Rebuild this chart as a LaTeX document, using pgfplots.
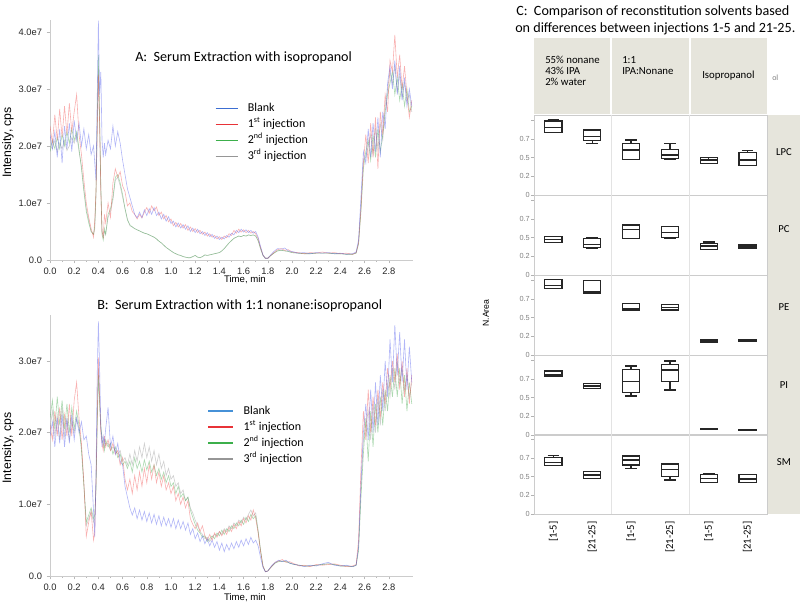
\documentclass[border=0pt]{standalone}
\usepackage{fontspec}
\setmainfont{Carlito}
\newfontfamily\arial{Liberation Sans}
\usepackage{pgfplots}
\usepackage{pgfplotstable}
\pgfplotsset{compat=1.18}
\usepgfplotslibrary{statistics}

\definecolor{tblue}{RGB}{70,80,235}
\definecolor{tred}{RGB}{240,70,70}
\definecolor{tgreen}{RGB}{60,165,70}
\definecolor{tgray}{RGB}{140,140,140}
\definecolor{lblue}{RGB}{60,110,210}
\definecolor{lblueB}{RGB}{70,145,215}
\definecolor{lred}{RGB}{232,50,55}
\definecolor{lgreen}{RGB}{60,175,75}
\definecolor{lgray}{RGB}{150,150,150}
\definecolor{strip}{RGB}{230,229,220}

% panel A: intensity in units of 1e7 cps
\pgfplotstableread{
x bl r1 g2 k3
0.00 2.20 2.35 1.90 2.00
0.02 1.95 2.05 2.10 1.95
0.04 2.25 2.55 1.95 2.10
0.06 1.80 2.10 2.15 1.90
0.08 2.30 2.65 1.95 2.05
0.10 1.70 2.15 2.20 1.95
0.12 2.35 2.70 2.00 2.10
0.14 1.95 2.20 2.25 1.92
0.16 2.40 2.75 2.05 2.00
0.18 1.90 2.25 2.30 2.15
0.20 2.45 2.60 2.10 2.05
0.22 2.10 2.90 2.25 2.20
0.24 2.40 2.20 1.95 1.90
0.26 2.00 1.85 1.60 1.65
0.28 2.30 1.40 1.20 1.25
0.30 1.95 1.00 0.85 0.90
0.32 2.20 0.75 0.65 0.70
0.34 1.85 0.55 0.50 0.50
0.36 2.00 0.40 0.45 0.45
0.37 1.70 0.70 0.60 0.55
0.38 1.40 1.20 1.20 1.10
0.39 2.80 2.20 2.40 2.30
0.40 4.20 3.25 3.60 3.40
0.41 2.90 2.40 2.50 2.40
0.42 3.30 1.20 1.30 1.25
0.43 2.10 0.50 0.45 0.50
0.44 1.80 0.40 0.35 0.40
0.45 2.05 0.80 0.55 0.50
0.46 1.85 0.65 0.45 0.45
0.48 2.10 1.00 0.80 0.75
0.50 1.95 0.75 0.90 0.85
0.52 2.35 1.35 1.10 1.05
0.54 2.00 1.60 1.45 1.40
0.56 2.25 1.45 1.50 1.45
0.58 2.05 1.55 1.35 1.30
0.60 1.75 1.30 1.15 1.10
0.62 1.50 1.20 0.90 0.90
0.64 1.25 0.95 0.70 0.72
0.66 1.10 1.00 0.62 0.60
0.68 0.95 0.85 0.58 0.58
0.70 0.80 0.80 0.55 0.55
0.72 0.74 0.72 0.53 0.53
0.74 0.84 0.80 0.51 0.51
0.76 0.74 0.74 0.49 0.49
0.78 0.88 0.84 0.47 0.47
0.80 0.78 0.92 0.46 0.46
0.82 0.90 0.82 0.44 0.44
0.84 0.80 0.95 0.42 0.42
0.86 0.92 0.86 0.40 0.40
0.88 0.78 0.93 0.37 0.37
0.90 0.84 0.78 0.33 0.33
0.92 0.72 0.84 0.30 0.30
0.94 0.80 0.72 0.26 0.26
0.96 0.68 0.78 0.22 0.22
0.98 0.76 0.67 0.19 0.19
1.00 0.64 0.72 0.16 0.16
1.02 0.68 0.60 0.13 0.13
1.04 0.58 0.66 0.11 0.11
1.06 0.65 0.58 0.09 0.09
1.08 0.56 0.64 0.08 0.08
1.10 0.62 0.56 0.06 0.06
1.12 0.54 0.62 0.05 0.05
1.14 0.60 0.52 0.04 0.04
1.16 0.50 0.58 0.04 0.04
1.18 0.56 0.50 0.06 0.06
1.20 0.48 0.55 0.08 0.08
1.22 0.54 0.48 0.05 0.05
1.24 0.46 0.52 0.04 0.04
1.26 0.50 0.45 0.06 0.06
1.28 0.43 0.49 0.09 0.09
1.30 0.48 0.42 0.08 0.08
1.32 0.41 0.46 0.09 0.09
1.34 0.45 0.40 0.10 0.10
1.36 0.38 0.43 0.11 0.11
1.38 0.42 0.37 0.12 0.12
1.40 0.36 0.41 0.13 0.13
1.42 0.40 0.36 0.16 0.16
1.44 0.37 0.42 0.20 0.20
1.46 0.43 0.39 0.25 0.25
1.48 0.40 0.46 0.30 0.30
1.50 0.47 0.43 0.34 0.34
1.52 0.44 0.52 0.38 0.38
1.54 0.52 0.47 0.40 0.40
1.56 0.48 0.54 0.42 0.42
1.58 0.54 0.49 0.41 0.41
1.60 0.49 0.53 0.43 0.43
1.62 0.53 0.48 0.42 0.42
1.64 0.48 0.52 0.44 0.44
1.66 0.52 0.47 0.43 0.43
1.68 0.47 0.50 0.44 0.44
1.70 0.50 0.46 0.42 0.42
1.72 0.40 0.38 0.34 0.34
1.74 0.24 0.22 0.20 0.20
1.76 0.09 0.09 0.08 0.08
1.78 0.03 0.03 0.03 0.03
1.80 0.03 0.03 0.03 0.03
1.82 0.08 0.07 0.07 0.07
1.85 0.15 0.13 0.12 0.12
1.88 0.20 0.18 0.16 0.16
1.91 0.19 0.20 0.17 0.17
1.94 0.21 0.17 0.16 0.16
1.97 0.16 0.18 0.15 0.15
2.00 0.15 0.14 0.13 0.13
2.05 0.12 0.13 0.12 0.12
2.10 0.13 0.11 0.11 0.11
2.15 0.11 0.13 0.11 0.11
2.20 0.13 0.12 0.12 0.12
2.25 0.12 0.14 0.12 0.12
2.30 0.13 0.12 0.12 0.12
2.35 0.11 0.13 0.11 0.11
2.40 0.12 0.11 0.11 0.11
2.45 0.10 0.12 0.10 0.10
2.50 0.11 0.10 0.10 0.10
2.53 0.14 0.13 0.12 0.12
2.55 0.35 0.30 0.28 0.30
2.57 1.10 0.90 0.85 0.95
2.59 1.90 1.70 1.60 1.75
2.61 1.70 2.20 1.90 1.80
2.63 2.30 1.70 2.10 2.00
2.65 1.80 2.40 1.75 2.20
2.67 2.40 1.80 2.20 1.85
2.69 1.90 2.50 1.80 2.30
2.71 2.50 1.60 2.30 1.95
2.73 1.80 2.60 1.90 2.40
2.75 2.60 2.20 2.20 2.10
2.77 2.30 2.90 2.60 2.70
2.79 3.10 2.60 2.90 3.00
2.81 3.40 3.50 3.10 3.30
2.83 3.00 3.30 3.30 3.10
2.85 3.50 3.95 2.90 3.40
2.87 2.90 3.20 3.20 2.95
2.89 3.40 3.60 2.80 3.25
2.91 2.80 3.00 3.10 2.85
2.93 3.20 3.40 2.70 3.10
2.95 2.70 2.90 3.00 2.80
2.97 3.00 2.50 2.60 2.90
2.99 2.70 2.80 2.70 2.60
}\tabA

% panel B: intensity in units of 1e7 cps
\pgfplotstableread{
x bl r1 g2 k3
0.00 1.95 2.10 2.20 2.05
0.02 2.15 1.90 2.45 2.30
0.04 1.80 2.30 2.05 1.95
0.06 2.20 1.95 2.50 2.25
0.08 1.85 2.35 2.10 1.90
0.10 2.25 1.90 2.45 2.35
0.12 1.80 2.25 2.05 1.95
0.14 2.20 1.95 2.40 2.20
0.16 1.85 2.40 2.00 1.90
0.18 2.25 1.95 2.35 2.15
0.20 1.90 2.45 2.05 2.00
0.22 2.20 2.70 2.30 2.20
0.24 2.00 2.20 2.10 2.05
0.26 2.15 1.85 1.75 1.80
0.28 1.90 1.30 1.25 1.30
0.30 1.95 0.55 0.75 0.70
0.32 1.70 0.75 0.85 0.80
0.34 1.55 0.90 0.95 0.90
0.36 0.90 0.50 0.80 0.75
0.37 0.55 0.60 0.85 0.80
0.38 1.40 1.30 1.20 1.25
0.39 2.80 2.20 2.10 2.15
0.40 3.55 3.05 2.80 2.90
0.41 2.90 2.50 2.40 2.45
0.42 2.10 2.00 2.10 2.05
0.43 1.80 1.85 1.90 1.95
0.44 1.95 1.75 1.85 1.90
0.45 1.85 1.95 1.75 1.80
0.46 2.05 1.80 1.90 1.85
0.48 2.35 1.90 1.80 1.85
0.50 1.80 1.75 1.85 1.75
0.52 1.95 1.85 1.70 1.80
0.54 1.70 1.70 1.80 1.75
0.56 1.85 1.75 1.65 1.70
0.58 1.60 1.55 1.70 1.75
0.60 1.55 1.65 1.55 1.60
0.62 1.25 1.35 1.60 1.65
0.64 1.10 1.20 1.50 1.55
0.66 0.95 1.35 1.60 1.70
0.68 0.85 1.15 1.45 1.55
0.70 0.95 1.40 1.65 1.75
0.72 0.80 1.20 1.50 1.60
0.74 0.92 1.45 1.60 1.80
0.76 0.78 1.25 1.45 1.65
0.78 0.90 1.50 1.62 1.85
0.80 0.76 1.30 1.48 1.65
0.82 0.88 1.55 1.60 1.80
0.84 0.74 1.35 1.45 1.60
0.86 0.86 1.55 1.55 1.75
0.88 0.72 1.30 1.40 1.55
0.90 0.84 1.45 1.50 1.70
0.92 0.70 1.25 1.35 1.50
0.94 0.82 1.40 1.45 1.60
0.96 0.70 1.20 1.30 1.40
0.98 0.80 1.30 1.40 1.50
1.00 0.68 1.15 1.25 1.35
1.02 0.80 1.25 1.30 1.40
1.04 0.66 1.05 1.15 1.25
1.06 0.78 1.15 1.25 1.30
1.08 0.66 1.00 1.10 1.15
1.10 0.76 1.10 1.15 1.20
1.12 0.64 0.95 1.05 1.05
1.14 0.74 1.05 1.10 1.10
1.16 0.58 0.80 0.92 0.95
1.18 0.66 0.72 0.82 0.88
1.20 0.52 0.66 0.72 0.78
1.22 0.60 0.74 0.64 0.70
1.24 0.48 0.62 0.60 0.62
1.26 0.56 0.70 0.54 0.58
1.28 0.45 0.56 0.56 0.52
1.30 0.52 0.50 0.48 0.54
1.32 0.42 0.58 0.52 0.48
1.34 0.50 0.50 0.56 0.54
1.36 0.40 0.60 0.52 0.58
1.38 0.48 0.54 0.60 0.56
1.40 0.36 0.62 0.56 0.62
1.42 0.46 0.56 0.64 0.58
1.44 0.34 0.64 0.58 0.66
1.46 0.44 0.58 0.66 0.62
1.48 0.36 0.68 0.62 0.70
1.50 0.46 0.62 0.70 0.66
1.52 0.38 0.72 0.66 0.74
1.54 0.48 0.66 0.74 0.70
1.56 0.40 0.76 0.70 0.78
1.58 0.50 0.70 0.78 0.74
1.60 0.42 0.80 0.72 0.82
1.62 0.52 0.74 0.82 0.78
1.64 0.44 0.84 0.76 0.86
1.66 0.54 0.78 0.86 0.92
1.68 0.46 0.92 0.80 0.84
1.70 0.50 0.80 0.84 0.88
1.72 0.42 0.60 0.62 0.64
1.74 0.26 0.34 0.36 0.36
1.76 0.12 0.14 0.14 0.14
1.78 0.06 0.06 0.06 0.06
1.80 0.07 0.07 0.07 0.07
1.83 0.14 0.13 0.13 0.13
1.86 0.19 0.19 0.18 0.18
1.89 0.22 0.21 0.20 0.21
1.92 0.20 0.23 0.21 0.20
1.95 0.22 0.19 0.20 0.21
1.98 0.18 0.20 0.18 0.18
2.02 0.16 0.17 0.16 0.16
2.06 0.15 0.14 0.15 0.15
2.10 0.13 0.15 0.14 0.14
2.15 0.15 0.13 0.14 0.14
2.20 0.14 0.16 0.15 0.15
2.25 0.17 0.15 0.16 0.16
2.30 0.19 0.16 0.17 0.17
2.35 0.15 0.17 0.16 0.16
2.40 0.14 0.15 0.14 0.14
2.45 0.15 0.13 0.14 0.14
2.50 0.13 0.14 0.13 0.13
2.53 0.15 0.16 0.15 0.15
2.55 0.40 0.50 0.35 0.40
2.57 1.30 1.50 1.10 1.20
2.59 2.00 2.30 1.70 1.90
2.61 2.40 1.90 2.20 2.10
2.63 1.90 2.60 1.60 2.30
2.65 2.60 2.00 2.30 1.90
2.67 2.00 2.50 1.80 2.40
2.69 2.70 2.10 2.40 2.00
2.71 2.10 2.60 2.00 2.50
2.73 2.80 2.20 2.50 2.10
2.75 2.30 2.70 2.10 2.60
2.77 3.00 2.40 2.60 2.30
2.79 2.50 2.90 2.30 2.70
2.81 3.30 2.60 2.80 2.50
2.83 2.70 3.00 2.50 2.90
2.85 3.50 2.70 2.90 2.60
2.87 2.80 3.10 2.50 3.00
2.89 3.40 2.60 2.90 2.70
2.91 2.70 3.00 2.40 2.90
2.93 3.30 2.50 2.80 2.60
2.95 2.60 2.90 2.30 2.80
2.97 3.20 2.40 2.70 2.50
2.99 2.70 2.80 2.40 2.70
}\tabB

\pgfplotsset{
  trace/.style={line width=0.45pt, opacity=0.42},
  chrom/.style={
    scale only axis, width=272.25pt, anchor=south west,
    xmin=0, xmax=3.0, ymin=0,
    axis lines*=left, axis line style={gray!40},
    tick style={gray!55, thin}, tick align=outside,
    major tick length=2.5pt, minor tick length=1.5pt,
    xtick={0,0.2,0.4,0.6,0.8,1.0,1.2,1.4,1.6,1.8,2.0,2.2,2.4,2.6,2.8},
    minor x tick num=1,
    tick label style={font=\arial\fontsize{7}{8}\selectfont, text=black!85},
    xticklabel style={/pgf/number format/.cd, fixed, fixed zerofill, precision=1, assume math mode=true},
    xlabel={Time, min}, ylabel={Intensity, cps},
    xlabel style={font=\arial\fontsize{7.2}{8}\selectfont, anchor=center},
    ylabel style={font=\arial\fontsize{9.2}{10}\selectfont, at={(axis description cs:-0.116,0.49)}, anchor=center},
    legend cell align=left,
    legend style={draw=none, fill=none, inner sep=0pt, anchor=north west,
      font=\fontsize{9}{10}\selectfont,
      nodes={inner sep=1pt, text height=7pt, text depth=2pt}, row sep=1pt,
      /tikz/every odd column/.append style={column sep=6pt}},
  },
  cpanel/.style={
    scale only axis, width=174.75pt, height=60pt, anchor=south west,
    xmin=0, xmax=6, ymin=0, ymax=1.0667,
    axis line style={gray!40},
    xtick={0.5,1.5,2.5,3.5,4.5,5.5}, xticklabels={}, xtick style={draw=none},
    ytick={0,0.25,0.5,0.75,1}, yticklabels={0,0.2,0.5,0.7,{}}, ytick pos=left,
    ytick style={gray!60}, tick align=outside, major tick length=2pt,
    yticklabel style={font=\arial\fontsize{5.5}{6}\selectfont, text=gray, inner xsep=1pt},
    extra x ticks={2,4}, extra x tick labels={},
    extra x tick style={grid=major, tick style={draw=none}},
    major grid style={gray!22, line width=0.8pt},
    boxplot/draw direction=y,
    boxplot/box extend=0.44, boxplot/whisker extend=0.3,
    every axis plot/.append style={draw=black!85, line width=0.9pt},
  },
}

\begin{document}
\begin{tikzpicture}
\path[use as bounding box] (0pt,0pt) rectangle (600pt,-454.5pt);

% ---------- A ----------
\node[anchor=west, inner sep=0pt, font=\fontsize{10.6}{12}\selectfont] at (101.25pt,-43.5pt) {A:\ \ Serum Extraction with isopropanol};
\begin{axis}[chrom, at={(37.5pt,-195pt)}, height=180pt, ymax=4.21,
  ytick={0,1,2,3,4}, yticklabels={0.0,1.0e7,2.0e7,3.0e7,4.0e7},
  xlabel style={at={(axis description cs:0.537,-0.08)}},
  legend image code/.code={\draw[#1] (0pt,0pt) -- (16.5pt,0pt);},
  legend style={at={(axis cs:1.36,2.79)}}]
\addplot[tgray, trace, forget plot] table[x=x, y=k3] {\tabA};
\addplot[tgreen, trace, forget plot] table[x=x, y=g2] {\tabA};
\addplot[tred, trace, forget plot] table[x=x, y=r1] {\tabA};
\addplot[tblue, trace, forget plot] table[x=x, y=bl] {\tabA};
\addlegendimage{lblue, line width=1.3pt}
\addlegendentry{Blank}
\addlegendimage{lred, line width=1.3pt}
\addlegendentry{1\textsuperscript{st} injection}
\addlegendimage{lgreen, line width=1.3pt}
\addlegendentry{2\textsuperscript{nd} injection}
\addlegendimage{lgray, line width=1.3pt}
\addlegendentry{3\textsuperscript{rd} injection}
\end{axis}

% ---------- B ----------
\node[anchor=west, inner sep=0pt, font=\fontsize{10.6}{12}\selectfont] at (72.75pt,-229.5pt) {B:\ \ Serum Extraction with 1:1 nonane:isopropanol};
\begin{axis}[chrom, at={(37.5pt,-432pt)}, height=195.75pt, ymax=3.64,
  ytick={0,1,2,3}, yticklabels={0.0,1.0e7,2.0e7,3.0e7},
  xlabel style={at={(axis description cs:0.537,-0.084)}},
  legend image code/.code={\draw[#1] (0pt,0pt) -- (18.75pt,0pt);},
  legend style={at={(axis cs:1.30,2.41)}}]
\addplot[tgray, trace, forget plot] table[x=x, y=k3] {\tabB};
\addplot[tgreen, trace, forget plot] table[x=x, y=g2] {\tabB};
\addplot[tred, trace, forget plot] table[x=x, y=r1] {\tabB};
\addplot[tblue, trace, forget plot] table[x=x, y=bl] {\tabB};
\addlegendimage{lblueB, line width=1.3pt}
\addlegendentry{Blank}
\addlegendimage{lred, line width=1.3pt}
\addlegendentry{1\textsuperscript{st} injection}
\addlegendimage{lgreen, line width=1.3pt}
\addlegendentry{2\textsuperscript{nd} injection}
\addlegendimage{lgray, line width=1.3pt}
\addlegendentry{3\textsuperscript{rd} injection}
\end{axis}

% ---------- C ----------
\node[anchor=west, inner sep=0pt, font=\fontsize{10.6}{12}\selectfont] at (387pt,-9pt) {C:\ \ Comparison of reconstitution solvents based};
\node[anchor=west, inner sep=0pt, font=\fontsize{10.6}{12}\selectfont] at (386.25pt,-21.75pt) {on differences between injections 1-5 and 21-25.};

\fill[strip] (400.5pt,-28.5pt) rectangle (457.5pt,-85.5pt);
\fill[strip] (459pt,-28.5pt) rectangle (516.75pt,-85.5pt);
\fill[strip] (518.25pt,-28.5pt) rectangle (575.25pt,-85.5pt);
\fill[strip] (576pt,-86.25pt) rectangle (600pt,-385.5pt);

\begin{scope}[every node/.style={anchor=west, inner sep=0pt, font=\fontsize{8.1}{8.1}\selectfont}]
\node at (408.75pt,-45pt) {55\% nonane};
\node at (408.75pt,-53.25pt) {43\% IPA};
\node at (408.75pt,-61.1pt) {2\% water};
\node at (466.5pt,-45pt) {1:1};
\node at (466.5pt,-53.25pt) {IPA:Nonane};
\node at (526.5pt,-57pt) {Isopropanol};
\node[text=gray, font=\fontsize{6}{6}\selectfont] at (579pt,-58.5pt) {ol};
\end{scope}

\begin{scope}[every node/.style={anchor=center, inner sep=0pt, font=\fontsize{8}{9}\selectfont}]
\node at (588pt,-114pt) {LPC};
\node at (588pt,-171.75pt) {PC};
\node at (588pt,-230.25pt) {PE};
\node at (588pt,-288.75pt) {PI};
\node at (588pt,-346.5pt) {SM};
\end{scope}

\node[rotate=90, inner sep=0pt, font=\arial\fontsize{6.5}{7}\selectfont] at (364.5pt,-234.75pt) {N.Area};

% LPC
\begin{axis}[cpanel, at={(400.5pt,-146.25pt)}]
\addplot[boxplot prepared={draw position=0.5, lower whisker=0.83, lower quartile=0.83, median=0.897, upper quartile=0.987, upper whisker=1.01}] coordinates {};
\addplot[boxplot prepared={draw position=1.5, lower whisker=0.689, lower quartile=0.724, median=0.777, upper quartile=0.867, upper whisker=0.867}] coordinates {};
\addplot[boxplot prepared={draw position=2.5, lower whisker=0.47, lower quartile=0.476, median=0.60, upper quartile=0.689, upper whisker=0.733}] coordinates {};
\addplot[boxplot prepared={draw position=3.5, lower whisker=0.47, lower quartile=0.489, median=0.533, upper quartile=0.609, upper whisker=0.689}] coordinates {};
\addplot[boxplot prepared={draw position=4.5, lower whisker=0.42, lower quartile=0.422, median=0.466, upper quartile=0.498, upper whisker=0.50}] coordinates {};
\addplot[boxplot prepared={draw position=5.5, lower whisker=0.39, lower quartile=0.39, median=0.467, upper quartile=0.57, upper whisker=0.59}] coordinates {};
\end{axis}

% PC
\begin{axis}[cpanel, at={(400.5pt,-206.25pt)}]
\addplot[boxplot prepared={draw position=0.5, lower whisker=0.43, lower quartile=0.436, median=0.473, upper quartile=0.511, upper whisker=0.515}] coordinates {};
\addplot[boxplot prepared={draw position=1.5, lower whisker=0.36, lower quartile=0.364, median=0.409, upper quartile=0.489, upper whisker=0.50}] coordinates {};
\addplot[boxplot prepared={draw position=2.5, lower whisker=0.489, lower quartile=0.489, median=0.609, upper quartile=0.667, upper whisker=0.667}] coordinates {};
\addplot[boxplot prepared={draw position=3.5, lower whisker=0.489, lower quartile=0.498, median=0.569, upper quartile=0.644, upper whisker=0.644}] coordinates {};
\addplot[boxplot prepared={draw position=4.5, lower whisker=0.34, lower quartile=0.342, median=0.387, upper quartile=0.422, upper whisker=0.44}] coordinates {};
\addplot[boxplot prepared={draw position=5.5, lower whisker=0.36, lower quartile=0.36, median=0.378, upper quartile=0.40, upper whisker=0.40}] coordinates {};
\end{axis}

% PE
\begin{axis}[cpanel, at={(400.5pt,-266.25pt)}]
\addplot[boxplot prepared={draw position=0.5, lower whisker=0.889, lower quartile=0.889, median=0.924, upper quartile=1.009, upper whisker=1.009}] coordinates {};
\addplot[boxplot prepared={draw position=1.5, lower whisker=0.82, lower quartile=0.822, median=0.84, upper quartile=0.991, upper whisker=0.991}] coordinates {};
\addplot[boxplot prepared={draw position=2.5, lower whisker=0.60, lower quartile=0.60, median=0.62, upper quartile=0.689, upper whisker=0.689}] coordinates {};
\addplot[boxplot prepared={draw position=3.5, lower whisker=0.60, lower quartile=0.60, median=0.631, upper quartile=0.676, upper whisker=0.676}] coordinates {};
\addplot[boxplot prepared={draw position=4.5, lower whisker=0.164, lower quartile=0.164, median=0.187, upper quartile=0.209, upper whisker=0.209}] coordinates {};
\addplot[boxplot prepared={draw position=5.5, lower whisker=0.175, lower quartile=0.175, median=0.187, upper quartile=0.20, upper whisker=0.20}] coordinates {};
\end{axis}

% PI
\begin{axis}[cpanel, at={(400.5pt,-326.25pt)}]
\addplot[boxplot prepared={draw position=0.5, lower whisker=0.787, lower quartile=0.787, median=0.80, upper quartile=0.853, upper whisker=0.853}] coordinates {};
\addplot[boxplot prepared={draw position=1.5, lower whisker=0.622, lower quartile=0.622, median=0.653, upper quartile=0.689, upper whisker=0.689}] coordinates {};
\addplot[boxplot prepared={draw position=2.5, lower whisker=0.52, lower quartile=0.564, median=0.711, upper quartile=0.876, upper whisker=0.92}] coordinates {};
\addplot[boxplot prepared={draw position=3.5, lower whisker=0.60, lower quartile=0.711, median=0.867, upper quartile=0.943, upper whisker=0.987}] coordinates {};
\addplot[boxplot prepared={draw position=4.5, lower whisker=0.075, lower quartile=0.076, median=0.08, upper quartile=0.083, upper whisker=0.083}] coordinates {};
\addplot[boxplot prepared={draw position=5.5, lower whisker=0.064, lower quartile=0.065, median=0.067, upper quartile=0.07, upper whisker=0.07}] coordinates {};
\end{axis}

% SM
\begin{axis}[cpanel, at={(400.5pt,-385.5pt)},
  xticklabels={{[1-5]},{[21-25]},{[1-5]},{[21-25]},{[1-5]},{[21-25]}},
  xticklabel style={rotate=90, anchor=east, font=\fontsize{8}{9}\selectfont}]
\addplot[boxplot prepared={draw position=0.5, lower whisker=0.644, lower quartile=0.644, median=0.684, upper quartile=0.756, upper whisker=0.777}] coordinates {};
\addplot[boxplot prepared={draw position=1.5, lower whisker=0.476, lower quartile=0.476, median=0.52, upper quartile=0.564, upper whisker=0.564}] coordinates {};
\addplot[boxplot prepared={draw position=2.5, lower whisker=0.609, lower quartile=0.653, median=0.72, upper quartile=0.773, upper whisker=0.773}] coordinates {};
\addplot[boxplot prepared={draw position=3.5, lower whisker=0.453, lower quartile=0.497, median=0.596, upper quartile=0.667, upper whisker=0.667}] coordinates {};
\addplot[boxplot prepared={draw position=4.5, lower whisker=0.418, lower quartile=0.418, median=0.476, upper quartile=0.529, upper whisker=0.543}] coordinates {};
\addplot[boxplot prepared={draw position=5.5, lower whisker=0.418, lower quartile=0.418, median=0.467, upper quartile=0.529, upper whisker=0.529}] coordinates {};
\end{axis}
\end{tikzpicture}
\end{document}
